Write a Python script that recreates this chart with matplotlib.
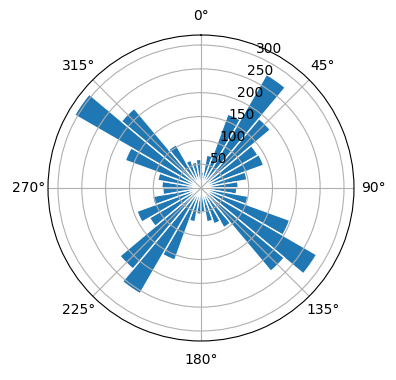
import numpy as np
import matplotlib
matplotlib.use("Agg")
import matplotlib.pyplot as plt

# direction bins (degrees, bin centres) and counts
directions = np.arange(5, 360, 10)
counts = [33, 70, 165, 275, 190, 138, 140, 98, 78,
          75, 100, 198, 280, 228, 96, 80, 72, 50,
          55, 72, 161, 256, 222, 125, 143, 103, 80,
          82, 92, 169, 306, 218, 105, 62, 55, 60]

fig = plt.figure(figsize=(3.96, 3.8), dpi=100)
ax = fig.add_axes([0.1212, 0.1026, 0.7727, 0.8053], projection='polar')
ax.set_theta_zero_location('N')
ax.set_theta_direction(-1)

ax.bar(np.deg2rad(directions), counts, width=np.deg2rad(10),
       edgecolor='white', linewidth=1)
ax.set_ylim(0, 321)
ax.set_yticks([50, 100, 150, 200, 250, 300])

fig.savefig('out.png', dpi=100)
